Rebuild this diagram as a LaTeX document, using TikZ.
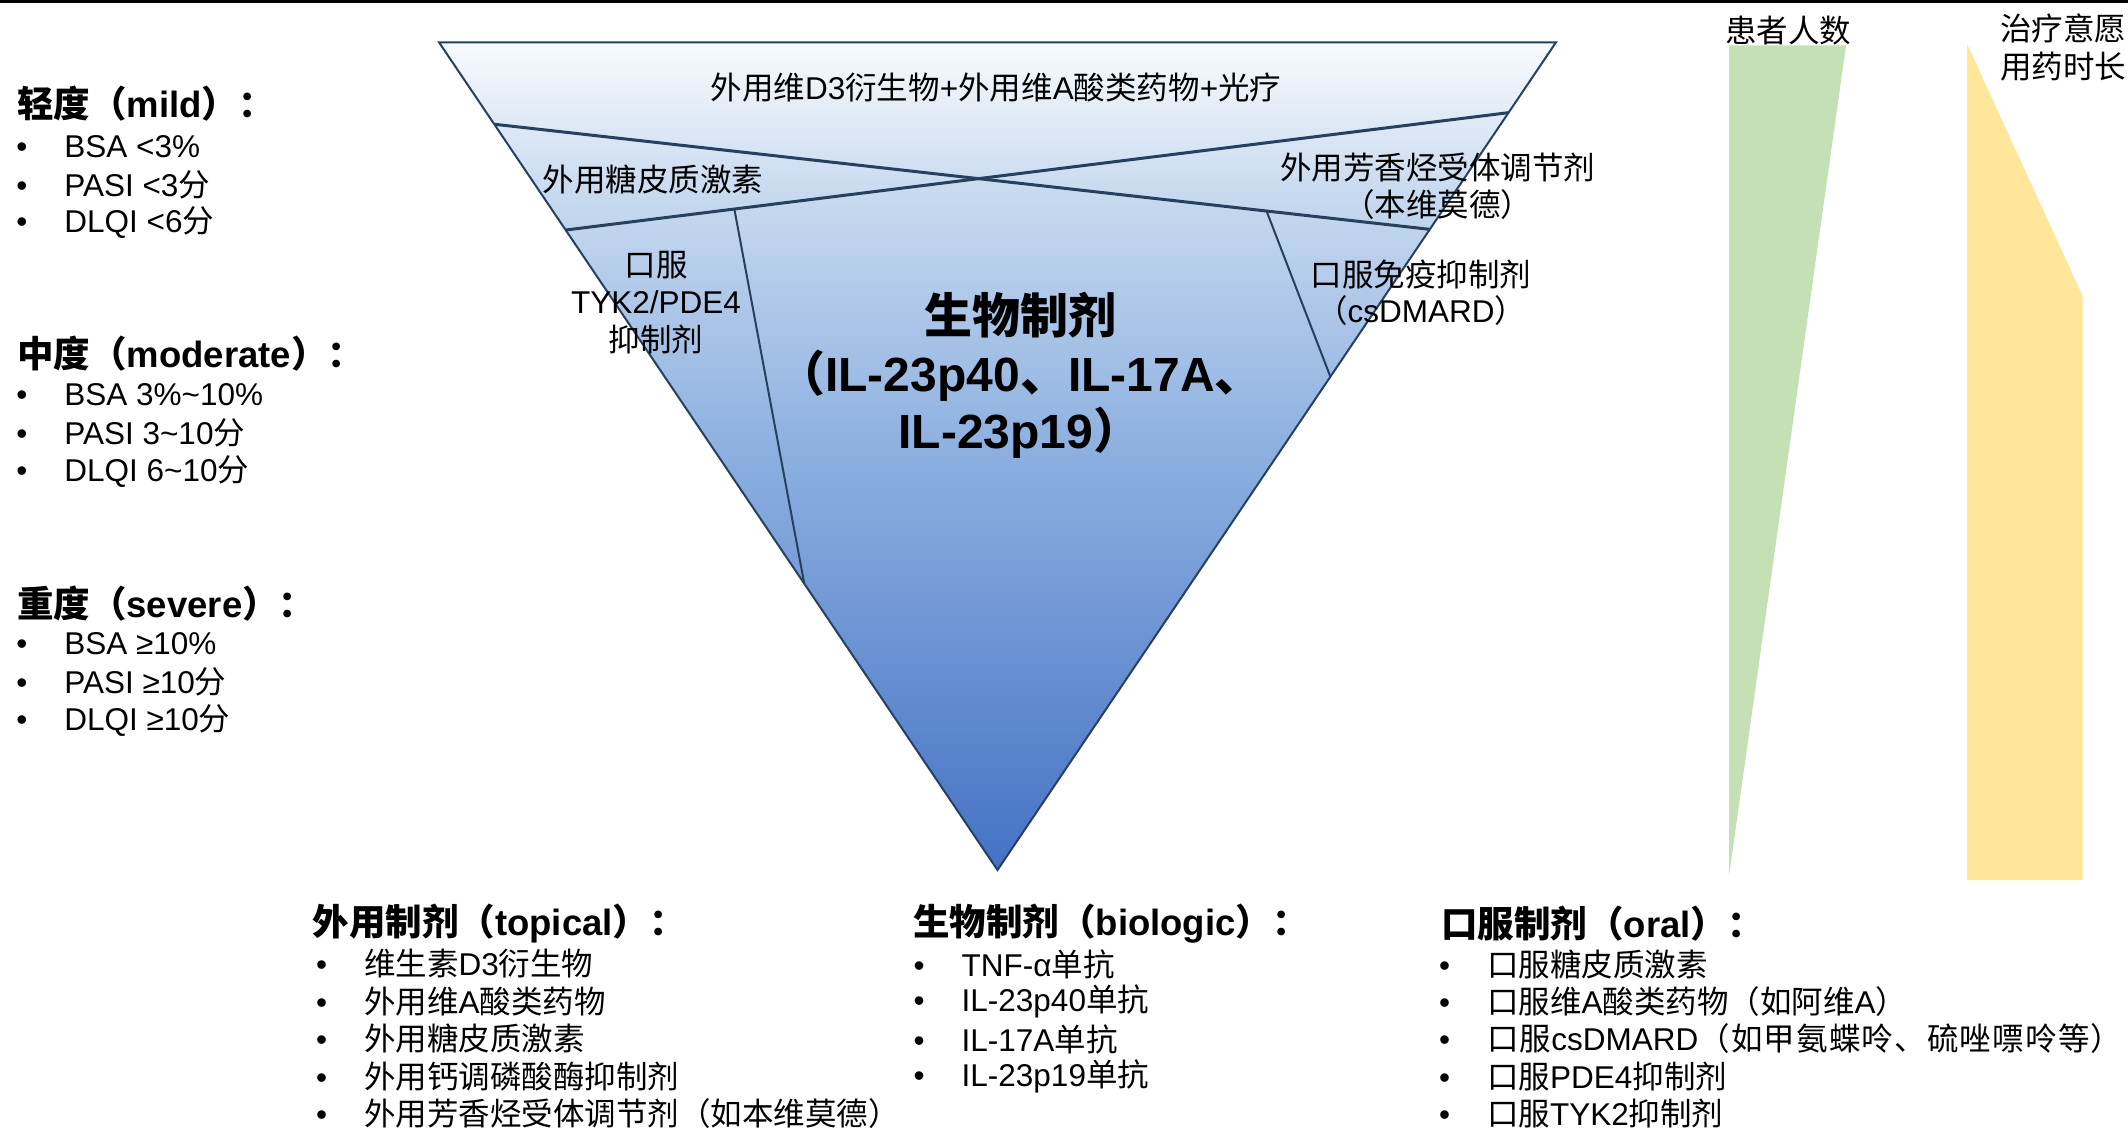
\documentclass[tikz,border=0pt]{standalone}
\usepackage{fontspec}
\setmainfont{Liberation Sans}
\newfontfamily\cjkf{Noto Sans CJK SC}
\newfontfamily\latf{Liberation Sans}
\usetikzlibrary{calc}
% automatic switch between Latin and CJK fonts
\XeTeXinterchartokenstate=1
\newXeTeXintercharclass\CJKcls
\newcount\cjkc
\def\setcjkrange#1#2{\cjkc=#1\relax\loop\XeTeXcharclass\cjkc=\CJKcls\relax\ifnum\cjkc<#2\relax\advance\cjkc by 1\repeat}
\setcjkrange{"4E00}{"9FFF}
\setcjkrange{"3000}{"303F}
\setcjkrange{"FF00}{"FFEF}
\XeTeXinterchartoks 0 \CJKcls = {\cjkf}
\XeTeXinterchartoks 4095 \CJKcls = {\cjkf}
\XeTeXinterchartoks \CJKcls 0 = {\latf}
\XeTeXinterchartoks 4095 0 = {\latf}

\definecolor{bluebot}{RGB}{68,114,196}
\definecolor{bluemid}{RGB}{140,175,224}
\definecolor{bluelt}{RGB}{196,215,238}
\definecolor{bluetop}{RGB}{248,251,254}
\definecolor{linecol}{RGB}{38,64,94}
\definecolor{greenbar}{RGB}{197,224,180}
\definecolor{yellowbar}{RGB}{255,230,153}
\pgfdeclareverticalshading{trishade}{100bp}{color(0bp)=(bluebot); color(25bp)=(bluebot); color(50bp)=(bluemid); color(65bp)=(bluelt); color(75bp)=(bluetop); color(100bp)=(bluetop)}
\newcommand\bul{\makebox[48pt][l]{•}}

\tikzset{
  itemtxt/.style={font=\fontsize{31.5}{38.3}\selectfont, inner sep=0pt, anchor=west},
  headtxt/.style={font=\fontsize{36.5}{44}\selectfont\bfseries, inner sep=0pt, anchor=west},
  tritxt/.style={font=\fontsize{31.5}{37.5}\selectfont, inner sep=0pt, align=center},
  bigtxt/.style={font=\fontsize{48}{57.5}\selectfont\bfseries, inner sep=0pt, align=center},
  sidetxt/.style={font=\fontsize{31.5}{38}\selectfont, inner sep=0pt, align=left},
  crossline/.style={draw=linecol, line width=3pt},
  innerline/.style={draw=linecol, line width=2pt},
  outline/.style={draw=linecol, line width=2pt, line join=miter},
}

\begin{document}
\begin{tikzpicture}[x=1pt,y=-1pt]
\useasboundingbox (0,0) rectangle (2128,1132);
\fill[black] (0,0) rectangle (2128,3);

% ---- triangle ----
\coordinate (TL) at (439,42.3);
\coordinate (TR) at (1556,42.3);
\coordinate (AP) at (997.5,870);
\coordinate (AL) at ($(TL)!0.099!(AP)$);
\coordinate (AR) at ($(TR)!0.226!(AP)$);
\coordinate (BL) at ($(TL)!0.2268!(AP)$);
\coordinate (BR) at ($(TR)!0.085!(AP)$);
\coordinate (LIt) at ($(BL)!0.1789!(BR)$);
\coordinate (LIb) at ($(TL)!0.654!(AP)$);
\coordinate (RIt) at ($(AL)!0.8255!(AR)$);
\coordinate (RIb) at ($(TR)!0.404!(AP)$);

\shade[shading=trishade] (TL) -- (TR) -- (AP) -- cycle;
\draw[innerline] (LIt) -- (LIb);
\draw[innerline] (RIt) -- (RIb);
\draw[crossline] (AL) -- (AR);
\draw[crossline] (BL) -- (BR);
\draw[outline] (TL) -- (TR) -- (AP) -- cycle;

\node[tritxt] (ttop) at (996,88) {外用维D3衍生物+外用维A酸类药物+光疗};
\node[tritxt] (tgc) at (653,180) {外用糖皮质激素};
\node[tritxt] (tar) at (1437.5,186) {外用芳香烃受体调节剂\\（本维莫德）};
\node[tritxt] (toral) at (656,302.5) {口服\\TYK2/PDE4\\抑制剂};
\node[tritxt, align=center, font=\fontsize{31.5}{36}\selectfont] (timm) at (1421,293) {口服免疫抑制剂\\（csDMARD）};
\node[bigtxt] (tbio) at (1020,375.3) {生物制剂\\（IL-23p40、IL-17A、\\IL-23p19）};

% ---- right bars ----
\fill[greenbar] (1729,45.5) -- (1846,45.5) -- (1729,876) -- cycle;
\fill[yellowbar] (1967,44) -- (2082.5,296) -- (2082.5,880) -- (1967,880) -- cycle;
\node[sidetxt] (pat) at (1788,31) {患者人数};
\node[sidetxt, anchor=west] (will) at (2000,47) {治疗意愿\\用药时长};

% ---- left lists ----
\node[headtxt] (hmild) at (17,104) {轻度（mild）：};
\node[itemtxt] (m1) at (16.2,147) {\bul BSA <3\%};
\node[itemtxt] (m2) at (16.2,185) {\bul PASI <3分};
\node[itemtxt] (m3) at (16.2,223) {\bul DLQI <6分};

\node[headtxt] (hmod) at (17,353.5) {中度（moderate）：};
\node[itemtxt] (d1) at (16.2,395) {\bul BSA 3\%\textasciitilde 10\%};
\node[itemtxt] (d2) at (16.2,433) {\bul PASI 3\textasciitilde 10分};
\node[itemtxt] (d3) at (16.2,471.5) {\bul DLQI 6\textasciitilde 10分};

\node[headtxt] (hsev) at (17,604) {重度（severe）：};
\node[itemtxt] (s1) at (16.2,644) {\bul BSA ≥10\%};
\node[itemtxt] (s2) at (16.2,682) {\bul PASI ≥10分};
\node[itemtxt] (s3) at (16.2,720.5) {\bul DLQI ≥10分};

% ---- bottom lists ----
\node[headtxt] (htop) at (312.5,924) {外用制剂（topical）：};
\node[itemtxt] (p1) at (316,964) {\bul 维生素D3衍生物};
\node[itemtxt] (p2) at (316,1001.5) {\bul 外用维A酸类药物};
\node[itemtxt] (p3) at (316,1039) {\bul 外用糖皮质激素};
\node[itemtxt] (p4) at (316,1076.5) {\bul 外用钙调磷酸酶抑制剂};
\node[itemtxt] (p5) at (316,1114) {\bul 外用芳香烃受体调节剂（如本维莫德）};

\node[headtxt] (hbio) at (913,924) {生物制剂（biologic）：};
\node[itemtxt] (b1) at (913.5,964) {\bul TNF-α单抗};
\node[itemtxt] (b2) at (913.5,1001.5) {\bul IL-23p40单抗};
\node[itemtxt] (b3) at (913.5,1039) {\bul IL-17A单抗};
\node[itemtxt] (b4) at (913.5,1076.5) {\bul IL-23p19单抗};

\node[headtxt] (horal) at (1441,924) {口服制剂（oral）：};
\node[itemtxt] (o1) at (1439,964) {\bul 口服糖皮质激素};
\node[itemtxt] (o2) at (1439,1001.5) {\bul 口服维A酸类药物（如阿维A）};
\node[itemtxt] (o3) at (1439,1039) {\XeTeXinterchartoks\CJKcls\CJKcls={\hskip1.2pt}\bul 口服csDMARD（如甲氨蝶呤、硫唑嘌呤等）};
\node[itemtxt] (o4) at (1439,1076.5) {\bul 口服PDE4抑制剂};
\node[itemtxt] (o5) at (1439,1114) {\bul 口服TYK2抑制剂};
\end{tikzpicture}
\end{document}
